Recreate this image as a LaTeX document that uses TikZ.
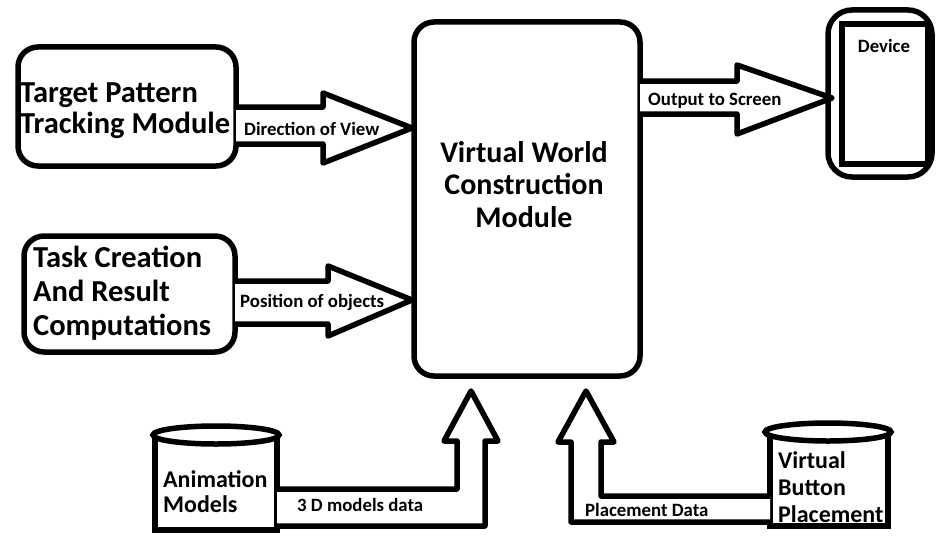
\documentclass[tikz,border=0pt]{standalone}
\usepackage{fontspec}
\setmainfont{Carlito}
\begin{document}
\begin{tikzpicture}[x=1pt,y=-1pt,
  lw/.style={line width=5.5pt},
  modbox/.style={lw,draw,rounded corners=20pt,inner sep=0pt},
  bigtxt/.style={inner sep=0pt,anchor=base west,align=left},
  dbtxt/.style={inner sep=0pt,align=left,anchor=base west},
  lbl/.style={font=\bfseries\fontsize{18.8}{21}\selectfont,inner sep=0pt,anchor=base west},
  blockarrow/.style={lw,draw,fill=white,line join=round}]
\useasboundingbox (0,0) rectangle (936,535);

% modules
\node[modbox,minimum width=218pt,minimum height=119pt] (tpt) at (127,106.5) {};
\node[modbox,minimum width=211pt,minimum height=116pt] (tcr) at (129.5,294) {};
\node[modbox,minimum width=226pt,minimum height=354pt] (vw) at (527,199) {};

% multi-line labels are anchored at the baseline of their last line
\node[bigtxt,font=\bfseries\fontsize{30.5}{31}\selectfont] (tpttext) at (20,133) {Target Pattern\\Tracking Module};
\node[bigtxt,font=\bfseries\fontsize{30.5}{34}\selectfont] (tcrtext) at (33,335) {Task Creation\\And Result\\Computations};
\node[inner sep=0pt,align=center,anchor=base,font=\bfseries\fontsize{30}{32.5}\selectfont] (vwtext) at (524,227) {Virtual World\\Construction\\Module};

% device
\node[modbox,rounded corners=24pt,minimum width=104pt,minimum height=167pt] (dev) at (880,93.5) {};
\node[lw,draw,inner sep=0pt,minimum width=86pt,minimum height=140pt] (screen) at (885,94) {};
\node[lbl,anchor=center] (devtext) at (884,46) {Device};

% data stores
\draw[lw] (155,435) -- (155,530) -- (277,530) -- (277,435);
\draw[lw,fill=white] (216,435) ellipse [x radius=63pt,y radius=9pt];
\node[dbtxt,font=\bfseries\fontsize{24}{25}\selectfont] (anim) at (163,512) {Animation\\Models};

\draw[lw] (770,432) -- (770,526) -- (888,526) -- (888,432);
\draw[lw,fill=white] (828,432) ellipse [x radius=63pt,y radius=9pt];
\node[dbtxt,font=\bfseries\fontsize{24}{27}\selectfont] (vbp) at (778,522) {Virtual\\Button\\Placement};

% block arrows
\draw[blockarrow] (236,107) -- (323,107) -- (323,93) -- (412,128) -- (323,163) -- (323,144) -- (236,144);
\node[lbl] (dirview) at (244,135) {Direction of View};

\draw[blockarrow] (235,281) -- (328,281) -- (328,266) -- (412,300) -- (328,336) -- (328,324) -- (235,324);
\node[lbl] (posobj) at (240,307) {Position of objects};

\draw[blockarrow] (640,81) -- (737,81) -- (737,65) -- (832,98) -- (737,134) -- (737,114) -- (640,114);
\node[lbl] (outscr) at (648,105) {Output to Screen};

\draw[blockarrow] (277,489) -- (457,489) -- (457,441) -- (444,441) -- (471,391) -- (498,441) -- (485,441) -- (485,526) -- (277,526);
\node[lbl] (models3d) at (297,511) {3 D models data};

\draw[blockarrow] (770,496) -- (601,496) -- (601,442) -- (614,442) -- (586,391) -- (558,442) -- (571,442) -- (571,522) -- (770,522);
\node[lbl] (placedata) at (585,516) {Placement Data};
\end{tikzpicture}
\end{document}
